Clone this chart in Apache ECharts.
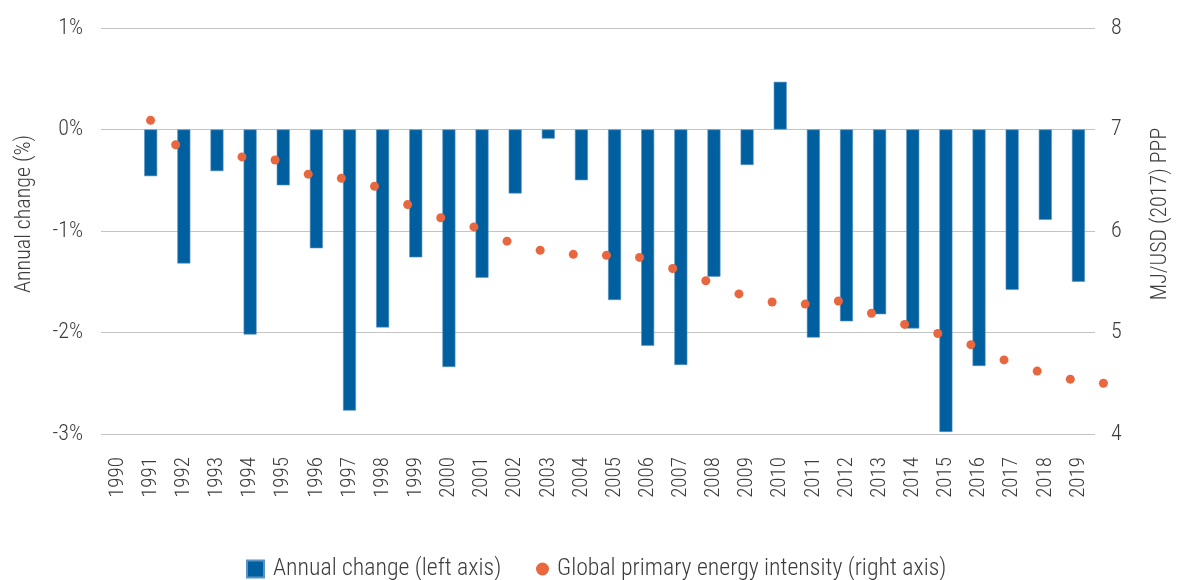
<!DOCTYPE html>
<html>
<head>
<meta charset="utf-8">
<script src="https://cdn.jsdelivr.net/npm/echarts@6/dist/echarts.min.js"></script>
<style>
html,body{margin:0;padding:0;background:#fff;}
#chart{width:1179px;height:580px;}
</style>
</head>
<body>
<div id="chart"></div>
<script>
const years = ['1990','1991','1992','1993','1994','1995','1996','1997','1998','1999','2000','2001','2002','2003','2004','2005','2006','2007','2008','2009','2010','2011','2012','2013','2014','2015','2016','2017','2018','2019'];
const annualChange = [null,-0.46,-1.32,-0.41,-2.02,-0.55,-1.17,-2.77,-1.95,-1.26,-2.34,-1.46,-0.63,-0.09,-0.50,-1.68,-2.13,-2.32,-1.45,-0.35,0.47,-2.05,-1.89,-1.82,-1.96,-2.98,-2.33,-1.58,-0.89,-1.50];
const energyIntensity = [7.09,6.85,null,6.73,6.70,6.56,6.52,6.44,6.26,6.13,6.04,5.90,5.81,5.77,5.76,5.74,5.63,5.51,5.38,5.30,5.28,5.31,5.19,5.08,4.99,4.88,4.73,4.62,4.54,4.50];
const leftTicks = [-3,-2,-1,0,1];
const rightTicks = [4,5,6,7,8];

const FONT = '"Roboto Condensed", Roboto, sans-serif';
const TXT = '#3c3c3c';
const BAR = 'Annual change (left axis)';
const DOT = 'Global primary energy intensity (right axis)';
const chart = echarts.init(document.getElementById('chart'), null, {renderer:'canvas'});
chart.setOption({
  animation:false,
  backgroundColor:'#fff',
  grid:{left:101,right:77,top:28,bottom:146},
  legend:[{
    left:246,top:557,padding:0,itemWidth:17,itemHeight:17,
    textStyle:{fontFamily:FONT,fontWeight:300,fontSize:23.8,color:TXT,padding:[0,0,0,4]},
    data:[{name:BAR,icon:'rect'}]
  },{
    left:536,top:557,padding:0,itemWidth:13,itemHeight:13,
    textStyle:{fontFamily:FONT,fontWeight:300,fontSize:23.8,color:TXT,padding:[0,0,0,3]},
    data:[{name:DOT,icon:'circle'}]
  }],
  xAxis:{
    type:'category',data:years,
    axisLine:{show:false,onZero:false},axisTick:{show:false},
    axisLabel:{rotate:90,margin:23,fontFamily:FONT,fontWeight:300,fontSize:21,color:TXT,interval:0}
  },
  yAxis:[{
    type:'value',min:leftTicks[0],max:leftTicks[leftTicks.length-1],interval:1,position:'left',
    name:'Annual change (%)',nameLocation:'middle',nameGap:66,nameRotate:90,
    nameTextStyle:{fontFamily:FONT,fontWeight:300,fontSize:22,color:TXT,padding:[0,0,0,34]},
    axisLine:{show:false},axisTick:{show:false},
    axisLabel:{formatter:'{value}%',margin:18,fontFamily:FONT,fontWeight:300,fontSize:22,color:TXT},
    splitLine:{lineStyle:{color:'#c4c4c4',width:1}}
  },{
    type:'value',min:rightTicks[0],max:rightTicks[rightTicks.length-1],interval:1,position:'right',
    name:'MJ/USD (2017) PPP',nameLocation:'middle',nameGap:54,nameRotate:90,
    nameTextStyle:{fontFamily:FONT,fontWeight:300,fontSize:22,color:TXT,padding:[0,0,0,34]},
    axisLine:{show:false},axisTick:{show:false},
    axisLabel:{margin:16,fontFamily:FONT,fontWeight:300,fontSize:22,color:TXT},
    splitLine:{show:false}
  }],
  series:[{
    name:BAR,type:'bar',yAxisIndex:0,data:annualChange,barWidth:13,
    itemStyle:{color:'#005F9E',borderColor:'#5b93c6',borderWidth:0.6}
  },{
    name:DOT,type:'scatter',yAxisIndex:1,symbolSize:9,
    symbolOffset:[25,0],
    data:energyIntensity.map((v,i)=> i===0 ? {value:v,symbolOffset:[33,0]} : v),
    itemStyle:{color:'#E9673F',opacity:1},z:3
  }]
});
</script>
</body>
</html>
